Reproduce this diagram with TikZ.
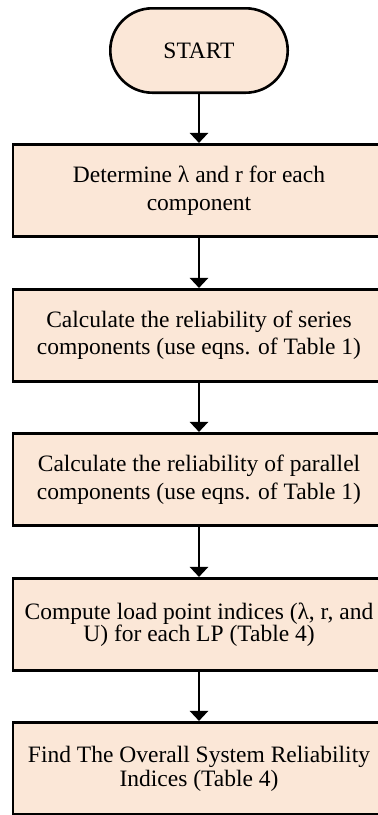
\documentclass[tikz,border=0pt]{standalone}
\usepackage{fontspec}
\setmainfont{Liberation Serif}
\usetikzlibrary{arrows.meta}
\definecolor{boxfill}{HTML}{FBE7D7}
\begin{document}
\begin{tikzpicture}[x=1pt,y=-1pt,
  every node/.style={font=\fontsize{23.5}{27}\selectfont},
  procbox/.style={draw=black, line width=2.6pt, fill=boxfill,
    minimum width=372.4pt, minimum height=92.5pt, inner sep=0pt, align=center},
  termbox/.style={draw=black, line width=2.6pt, fill=boxfill,
    minimum width=177.4pt, minimum height=84.4pt, rounded corners=42pt, inner sep=0pt},
  flow/.style={line width=2.6pt, -{Triangle[width=18pt,length=10pt]}}]
\useasboundingbox (0,0) rectangle (378,815);
\clip (0,0) rectangle (378,815);
\node[termbox] (start) at (199,50.5) {START};
\node[procbox, font=\fontsize{23.5}{28}\selectfont] (b1) at (199,190.5)
  {Determine λ and r for each\\component};
\node[procbox, font=\fontsize{23.5}{27}\selectfont] (b2) at (199,335.5)
  {Calculate the reliability of series\\components (use eqns. of Table 1)};
\node[procbox, font=\fontsize{23.5}{28}\selectfont] (b3) at (199,479.5)
  {Calculate the reliability of parallel\\components (use eqns. of Table 1)};
\node[procbox, font=\fontsize{23.5}{22.5}\selectfont] (b4) at (199,624.5)
  {Compute load point indices (λ, r, and\\U) for each LP (Table 4)};
\node[procbox, font=\fontsize{23.5}{24}\selectfont] (b5) at (199,768.5)
  {Find The Overall System Reliability\\Indices (Table 4)};
\draw[flow] (start) -- (b1);
\draw[flow] (b1) -- (b2);
\draw[flow] (b2) -- (b3);
\draw[flow] (b3) -- (b4);
\draw[flow] (b4) -- (b5);
\end{tikzpicture}
\end{document}
